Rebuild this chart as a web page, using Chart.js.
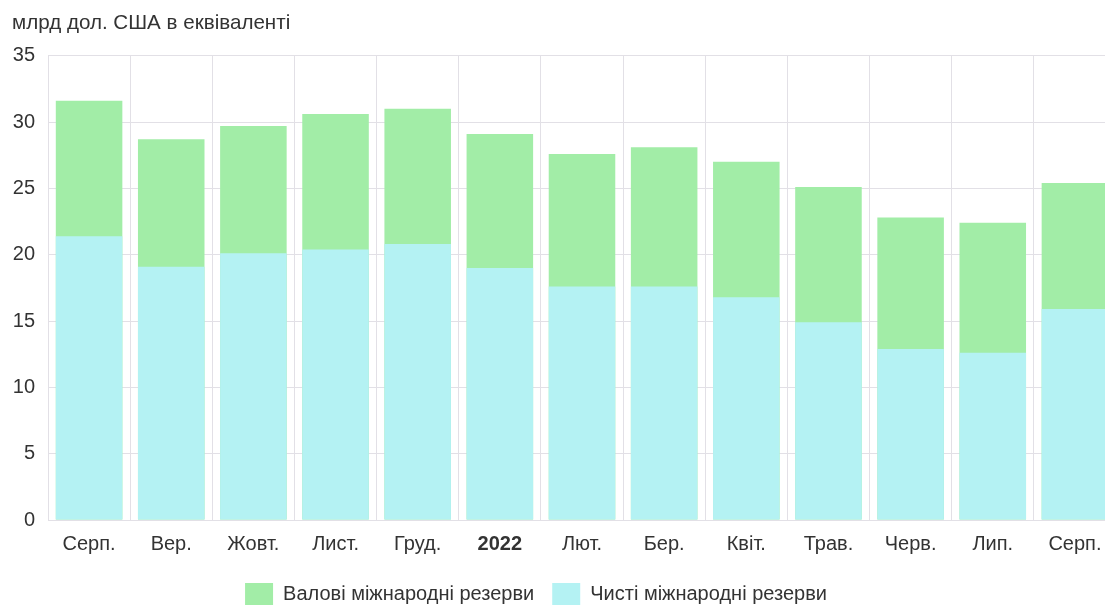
<!DOCTYPE html>
<html>
<head>
<meta charset="utf-8">
<script src="https://cdn.jsdelivr.net/npm/chart.js@4/dist/chart.umd.min.js"></script>
<style>
  html, body { margin: 0; padding: 0; background: #fff; overflow: hidden; }
  #clip { position: relative; width: 1105px; height: 607px; overflow: hidden; }
  #wrap { position: absolute; left: 0; top: 0; width: 1116px; height: 618px; }
</style>
</head>
<body>
<div id="clip"><div id="wrap"><canvas id="c"></canvas></div></div>
<script>
const categories = ['Серп.', 'Вер.', 'Жовт.', 'Лист.', 'Груд.', '2022', 'Лют.', 'Бер.', 'Квіт.', 'Трав.', 'Черв.', 'Лип.', 'Серп.'];
const grossReserves = [31.6, 28.7, 29.7, 30.6, 31.0, 29.1, 27.6, 28.1, 27.0, 25.1, 22.8, 22.4, 25.4];
const netReserves = [21.4, 19.1, 20.1, 20.4, 20.8, 19.0, 17.6, 17.6, 16.8, 14.9, 12.9, 12.6, 15.9];
const yTicks = [0, 5, 10, 15, 20, 25, 30, 35];
const unitLabel = 'млрд дол. США в еквіваленті';
const seriesNames = ['Валові міжнародні резерви', 'Чисті міжнародні резерви'];

Chart.defaults.font.family = '"Liberation Sans", Arial, sans-serif';
Chart.defaults.font.size = 20;
Chart.defaults.color = '#333';

const legendShift = {
  id: 'legendShift',
  afterLayout(chart) {
    const lg = chart.legend;
    const dx = 536 - (lg.left + lg.right) / 2;
    lg.left += dx;
    lg.right += dx;
    const dy = -3;
    lg.top += dy;
    lg.bottom += dy;
  }
};

new Chart(document.getElementById('c'), {
  type: 'bar',
  data: {
    labels: categories,
    datasets: [
      { label: seriesNames[0], data: grossReserves, backgroundColor: '#a2eda7', order: 1,
        categoryPercentage: 0.9, barPercentage: 0.9 },
      { label: seriesNames[1], data: netReserves, backgroundColor: '#b4f2f3', order: 0,
        categoryPercentage: 0.9, barPercentage: 0.9 }
    ]
  },
  plugins: [legendShift],
  options: {
    responsive: true,
    maintainAspectRatio: false,
    animation: false,
    layout: { padding: { left: 12, right: 0, top: 0, bottom: 0 } },
    plugins: {
      title: {
        display: true, text: unitLabel, align: 'start', color: '#333',
        font: { size: 20.6, weight: 'normal' }, padding: { top: 11, bottom: 20 }
      },
      legend: {
        position: 'bottom',
        labels: {
          boxWidth: 28, boxHeight: 22, padding: 18, color: '#333',
          font: { size: 20 },
          sort: (a, b) => a.datasetIndex - b.datasetIndex
        }
      },
      tooltip: { enabled: false }
    },
    scales: {
      x: {
        stacked: true,
        grid: { color: '#e2e0e6', drawTicks: false, offset: true },
        border: { color: '#e2e0e6' },
        ticks: {
          padding: 12, color: '#333', maxRotation: 0, autoSkip: false,
          font: (ctx) => (ctx.tick && ctx.tick.label === '2022') ? { size: 20, weight: 'bold' } : { size: 20 }
        }
      },
      y: {
        stacked: false,
        min: yTicks[0], max: yTicks[yTicks.length - 1],
        afterBuildTicks: (scale) => { scale.ticks = yTicks.map(v => ({ value: v })); },
        afterFit: (scale) => { scale.width = 36; },
        grid: { color: '#e2e0e6', drawTicks: false },
        border: { display: false },
        ticks: { padding: 13, color: '#333', font: { size: 20 } }
      }
    }
  }
});
</script>
</body>
</html>
